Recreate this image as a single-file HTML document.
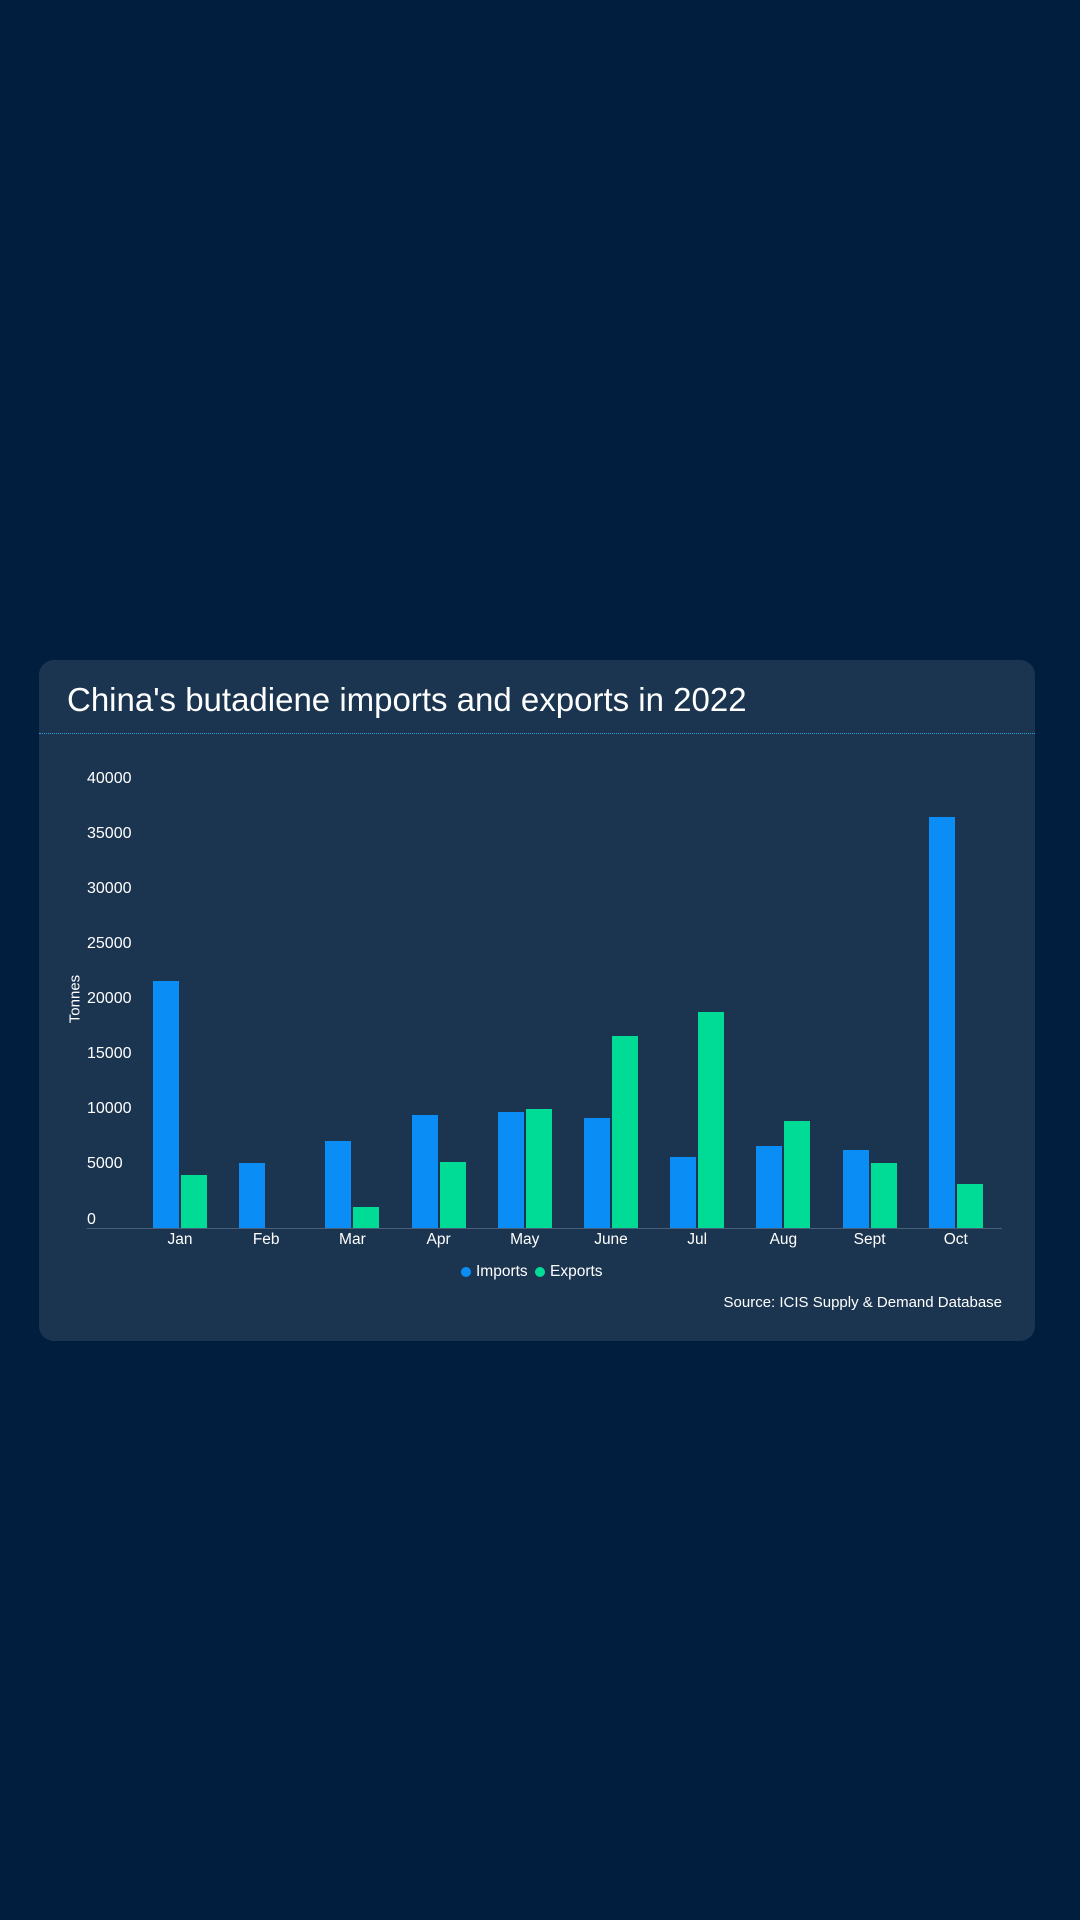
<!DOCTYPE html><html><head><style>
body{margin:0;width:1080px;height:1920px;background:#011e3e;font-family:"Liberation Sans",sans-serif;position:relative;overflow:hidden}
.card{position:absolute;left:39px;top:660px;width:996px;height:681px;background:#1b3550;border-radius:15px}
.t{position:absolute;color:#fff}
.bar{position:absolute;width:26px}
.i{background:#0a8ef5}.e{background:#00dc96}
.yl{position:absolute;left:87px;color:#fff;font-size:16px;transform:translateY(-50%)}
.xl{position:absolute;top:1231px;color:#fff;font-size:15.5px;width:80px;text-align:center}
</style></head><body>
<div class="card"></div>
<div class="t" style="left:67px;top:681px;font-size:33px">China's butadiene imports and exports in 2022</div>
<div style="position:absolute;left:39px;width:996px;top:733px;border-top:1px dotted #2aa3d8"></div>
<div class="yl" style="top:779px">40000</div>
<div class="yl" style="top:834px">35000</div>
<div class="yl" style="top:889px">30000</div>
<div class="yl" style="top:944px">25000</div>
<div class="yl" style="top:999px">20000</div>
<div class="yl" style="top:1054px">15000</div>
<div class="yl" style="top:1109px">10000</div>
<div class="yl" style="top:1164px">5000</div>
<div class="yl" style="top:1220px">0</div>
<div class="t" style="left:75px;top:999px;font-size:15px;transform:translate(-50%,-50%) rotate(-90deg)">Tonnes</div>
<div style="position:absolute;left:87px;width:915px;top:1228px;border-top:1px solid #4a6079"></div>
<div id="bars"></div>
<div style="position:absolute;left:461px;top:1267px;width:10px;height:10px;border-radius:50%;background:#0a8ef5"></div>
<div class="t" style="left:476px;top:1263px;font-size:15.5px">Imports</div>
<div style="position:absolute;left:535px;top:1267px;width:10px;height:10px;border-radius:50%;background:#00dc96"></div>
<div class="t" style="left:550px;top:1263px;font-size:15.5px">Exports</div>
<div class="t" style="right:78px;top:1294px;font-size:15px">Source: ICIS Supply &amp; Demand Database</div>
<script>
var m=["Jan","Feb","Mar","Apr","May","June","Jul","Aug","Sept","Oct"];
var im=[247,65,87,113,116,110,71,82,78,411],ex=[53,0,21,66,119,192,216,107,65,44];
var h="";
for(var k=0;k<10;k++){var c=180+k*86.2;
h+='<div class="bar i" style="left:'+(c-27)+'px;top:'+(1228-im[k])+'px;height:'+im[k]+'px"></div>';
if(ex[k])h+='<div class="bar e" style="left:'+(c+1)+'px;top:'+(1228-ex[k])+'px;height:'+ex[k]+'px"></div>';
h+='<div class="xl" style="left:'+(c-40)+'px">'+m[k]+'</div>';}
document.getElementById("bars").innerHTML=h;
</script>
</body></html>
